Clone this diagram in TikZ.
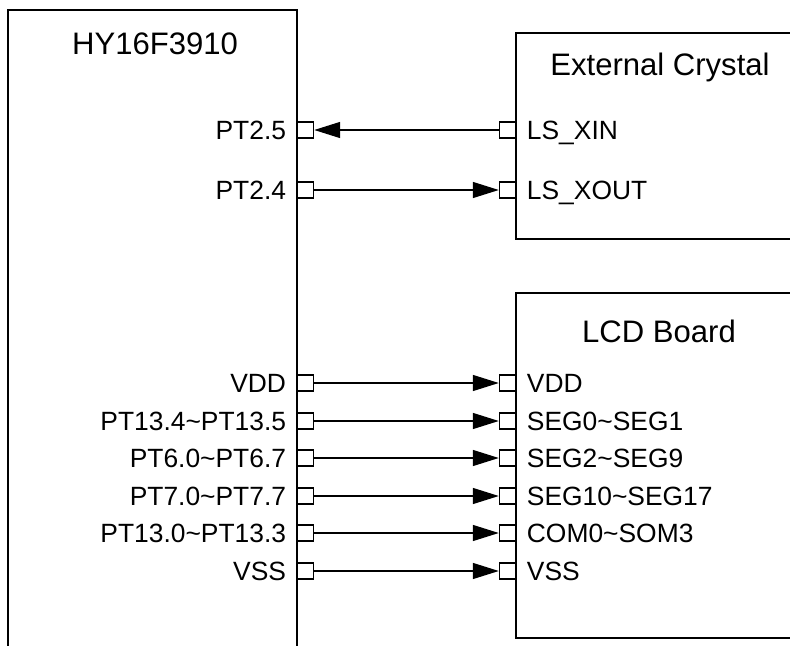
\documentclass[tikz,border=0pt]{standalone}
\usepackage{fontspec}
\setmainfont{Liberation Sans}
\usetikzlibrary{arrows.meta,positioning,fit}
\newcommand{\tild}{\textasciitilde}

\begin{document}
\begin{tikzpicture}[
 x=0.75pt, y=-0.75pt, >={Triangle[length=19.5pt,width=12pt]},
 font=\fontsize{19.8}{23}\selectfont,
 blk/.style={draw, line width=1pt, inner sep=0pt},
 pin/.style={draw, line width=0.9pt, fill=white, minimum size=12pt, inner sep=0pt},
 lbl/.style={inner sep=0pt, text height=14.2pt, text depth=0pt},
 title/.style={anchor=base, font=\fontsize{23.3}{27}\selectfont},
 every edge/.style={draw, ->, line width=1pt}]
\useasboundingbox (0,0) rectangle (790,646);
\clip (0,0) rectangle (790,646);
% the three boxes run off the page
\coordinate (mcu-nw) at (8,10); \coordinate (mcu-se) at (297,700);
\coordinate (xtal-nw) at (516,33); \coordinate (xtal-se) at (830,239);
\coordinate (lcd-nw) at (516,293); \coordinate (lcd-se) at (830,638);
\node[blk, fit=(mcu-nw)(mcu-se)] (mcu) {};
\node[blk, fit=(xtal-nw)(xtal-se)] (xtal) {};
\node[blk, fit=(lcd-nw)(lcd-se)] (lcd) {};
\node[title] (mcutitle) at (155,55) {HY16F3910};
\node[title] (xtaltitle) at (660,75) {External Crystal};
\node[title] (lcdtitle) at (659,342) {LCD Board};
% crystal pins
\node[pin, anchor=west] (p25) at (297,130) {};
\node[pin, anchor=west] (p24) at (297,190) {};
\node[pin, anchor=east] (xin) at (516,130) {};
\node[pin, anchor=east] (xout) at (516,190) {};
\node[lbl, left=8pt of p25] {PT2.5};
\node[lbl, left=8pt of p24] {PT2.4};
\node[lbl, right=8pt of xin] {LS\_XIN};
\node[lbl, right=8pt of xout] {LS\_XOUT};
\draw (xin) edge (p25) (p24) edge (xout);
% lcd pins
\foreach \y/\a/\b [count=\i] in {383/VDD/VDD, 421/PT13.4\tild PT13.5/SEG0\tild SEG1,
  458/PT6.0\tild PT6.7/SEG2\tild SEG9, 496/PT7.0\tild PT7.7/SEG10\tild SEG17,
  533/PT13.0\tild PT13.3/COM0\tild SOM3, 571/VSS/VSS} {
 \node[pin, anchor=west] (m\i) at (297,\y) {};
 \node[pin, anchor=east] (l\i) at (516,\y) {};
 \node[lbl, left=8pt of m\i] {\a};
 \node[lbl, right=8pt of l\i] {\b};
 \draw (m\i) edge (l\i);
}
\end{tikzpicture}
\end{document}
